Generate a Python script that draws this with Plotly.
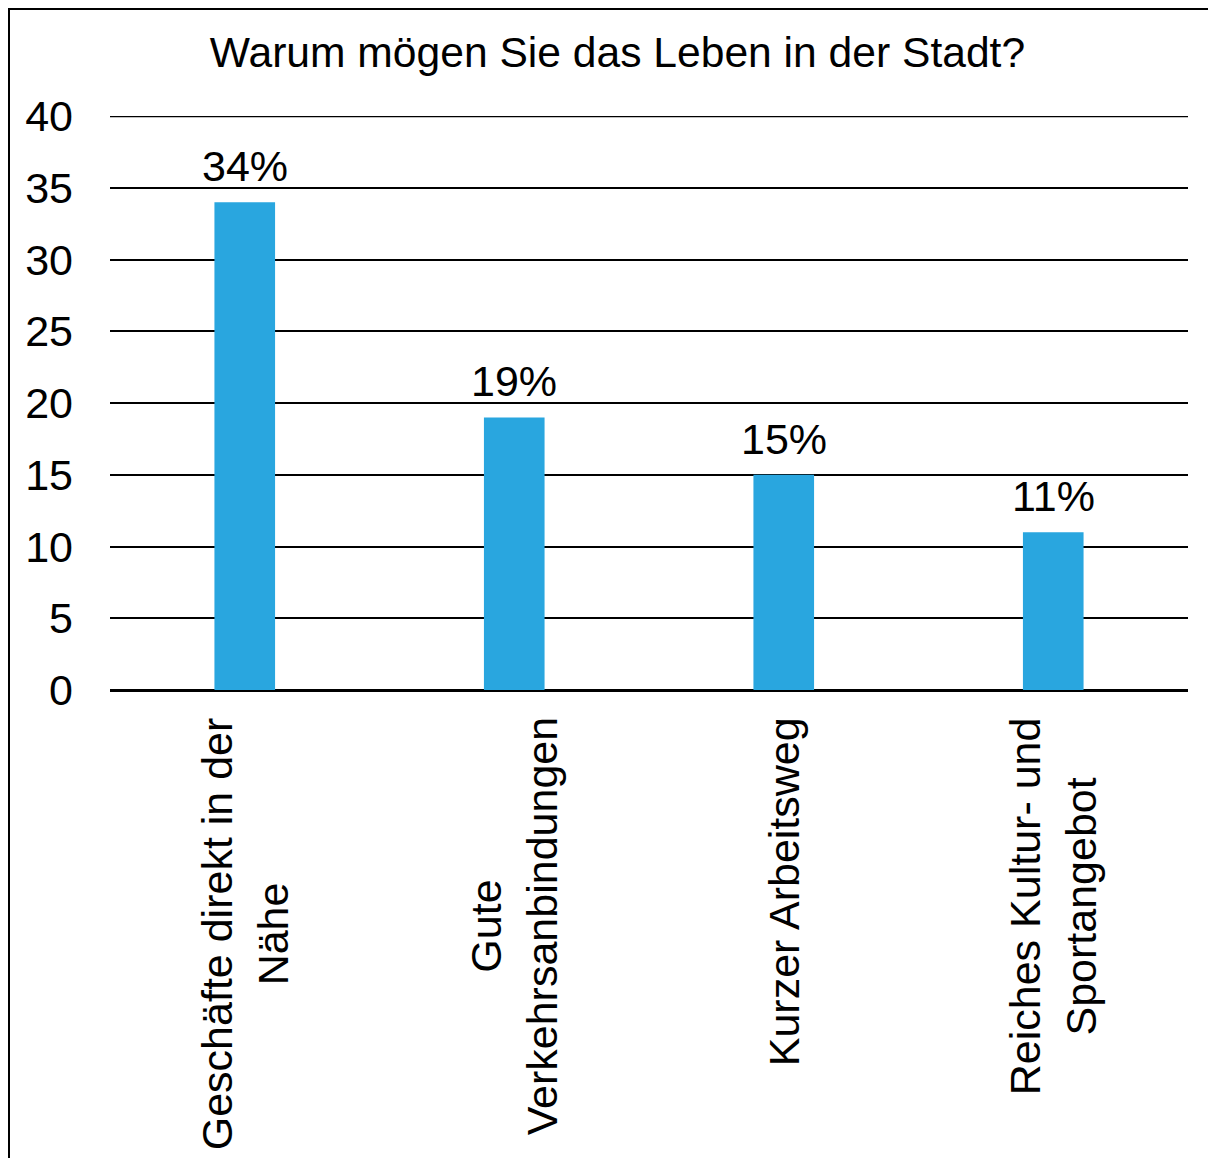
import plotly.graph_objects as go

categories = ["Geschäfte direkt in der<br>Nähe", "Gute<br>Verkehrsanbindungen",
              "Kurzer Arbeitsweg", "Reiches Kultur- und<br>Sportangebot"]
values = [34, 19, 15, 11]
labels = ["34%", "19%", "15%", "11%"]
y_ticks = [0, 5, 10, 15, 20, 25, 30, 35, 40]

FONT = "Liberation Sans, Arial, sans-serif"
BAR = "#29A6DF"
FS = 43

fig = go.Figure()
fig.add_trace(go.Bar(
    x=categories, y=values, marker=dict(color=BAR, line=dict(width=0)),
    width=0.225, hoverinfo="skip",
))
for c, v, t in zip(categories, values, labels):
    fig.add_annotation(x=c, y=v, text=t, showarrow=False, xanchor="center",
                       yanchor="bottom", yshift=10,
                       font=dict(family=FONT, size=FS, color="black"))
# category labels: rotated, lines centred on each other
for c in categories:
    fig.add_annotation(x=c, y=0, yref="y", text=c, showarrow=False, textangle=-90,
                       xanchor="center", yanchor="top", yshift=-25, align="center",
                       font=dict(family=FONT, size=FS, color="black"))

W, H = 1216, 1158
L, R, T, B = 102, 36, 108, 476
pw, ph = W - L - R, H - T - B

fig.update_layout(
    width=W, height=H,
    margin=dict(l=L, r=R, t=T, b=B),
    plot_bgcolor="white", paper_bgcolor="white",
    font=dict(family=FONT, size=FS, color="black"),
    showlegend=False,
    title=dict(text="Warum mögen Sie das Leben in der Stadt?",
               x=609.5 / W, xanchor="center", y=1 - 44 / H, yanchor="middle",
               font=dict(family=FONT, size=42.6, color="black")),
    bargap=0.775,
)
fig.update_xaxes(showticklabels=False, showgrid=False, showline=False, ticks="")
fig.update_yaxes(
    range=[0, 40.02], tickvals=y_ticks, showgrid=True, gridcolor="black", gridwidth=2,
    zeroline=True, zerolinecolor="black", zerolinewidth=3, showline=False, ticks="",
    tickfont=dict(family=FONT, size=FS, color="black"), ticklabelstandoff=36,
)
# top gridline at the last tick (plotly omits grid at the range edge)
fig.add_shape(type="line", xref="paper", yref="y", x0=0, x1=1,
              y0=max(y_ticks), y1=max(y_ticks), line=dict(color="black", width=2),
              layer="below")
# outer border of the chart area
fig.add_shape(type="rect", xref="paper", yref="paper",
              x0=(1 - L) / pw, x1=(W + 20 - L) / pw,
              y0=(H - B - (H + 20)) / ph, y1=(H - B - 1) / ph,
              line=dict(color="black", width=2), fillcolor="rgba(0,0,0,0)", layer="below")

fig.write_html("out.html")
